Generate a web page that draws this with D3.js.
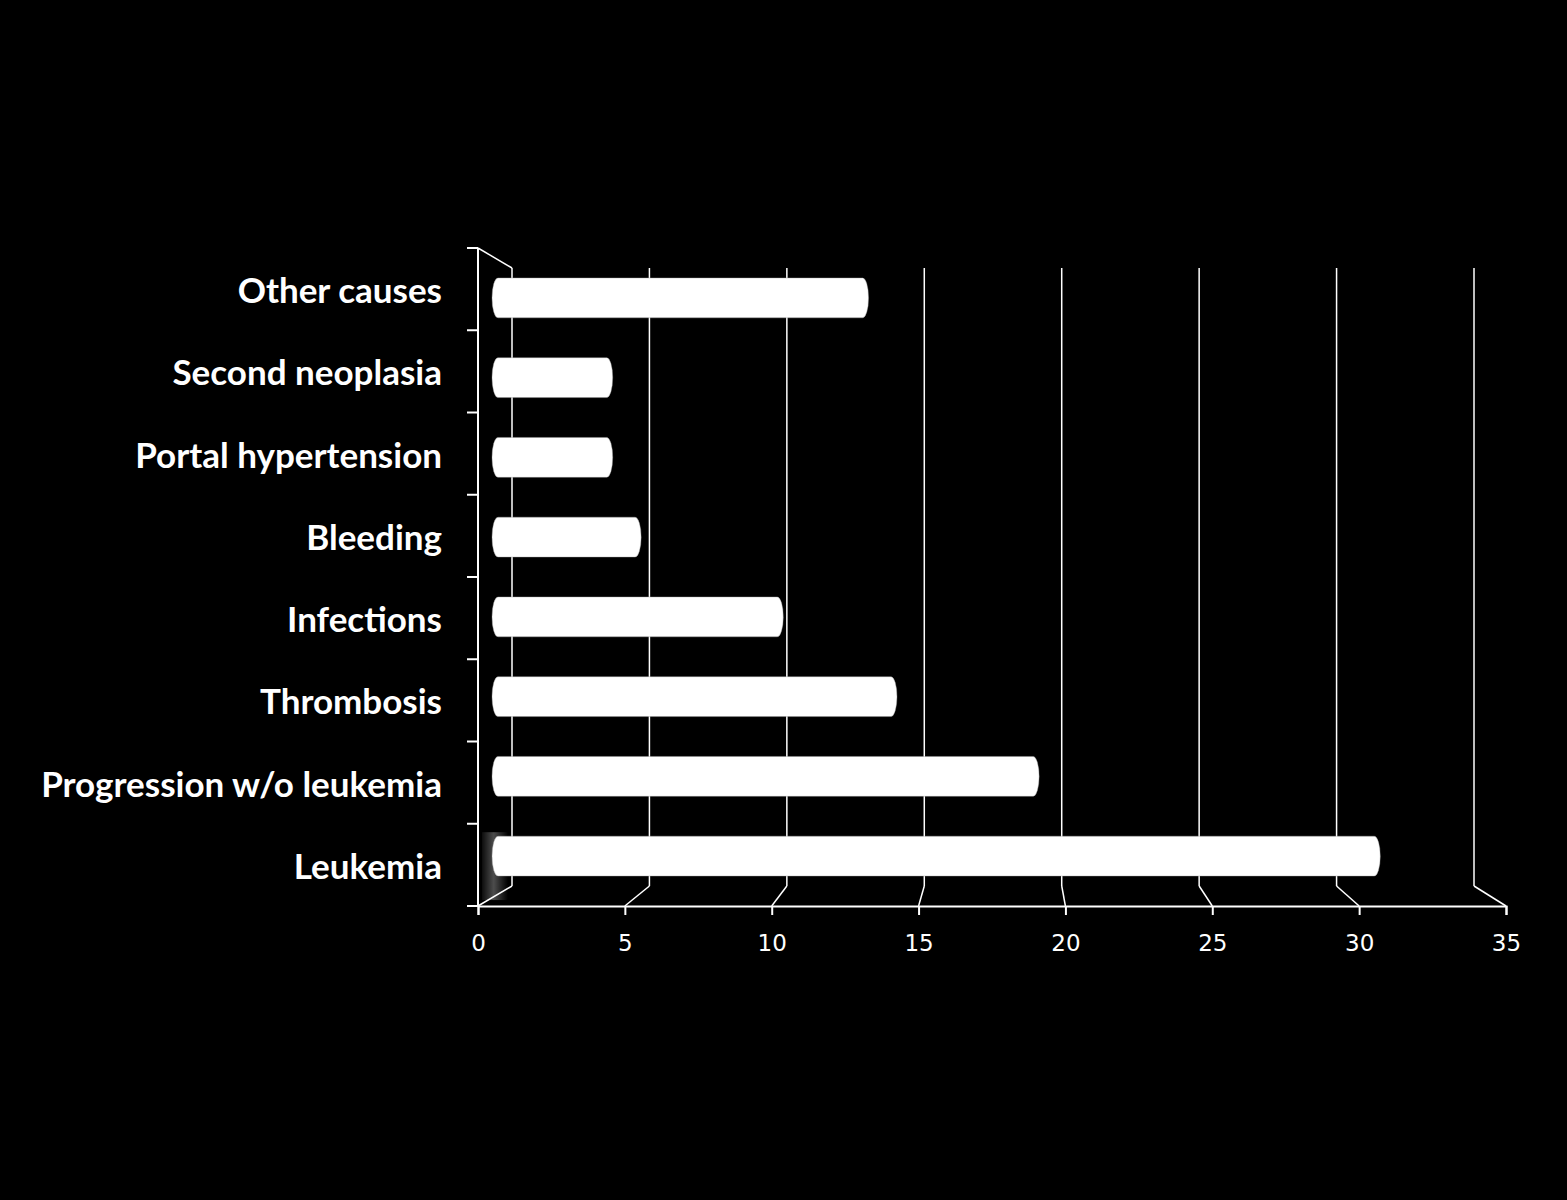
<!DOCTYPE html>
<html lang="en">
<head>
<meta charset="utf-8">
<title>Causes of death</title>
<script src="https://d3js.org/d3.v7.min.js"></script>
<style>
  body { margin: 0; background: #000; }
  svg { display: block; background: #000; }
</style>
</head>
<body>
<script>
// data
var categories = ["Leukemia", "Progression w/o leukemia", "Thrombosis", "Infections",
                  "Bleeding", "Portal hypertension", "Second neoplasia", "Other causes"];
var values = [31, 19, 14, 10, 5, 4, 4, 13];
var tickValues = [0, 5, 10, 15, 20, 25, 30, 35];

var svgWidth = 1567, svgHeight = 1200;

var svg = d3.select("body").append("svg")
    .attr("width", svgWidth)
    .attr("height", svgHeight);

// front plane scales (floor axis)
var xFront = d3.scaleLinear().domain([0, 35]).range([478, 1506]);
var yFront = d3.scaleBand().domain(categories).range([906, 248]);
// back wall scales
var xBack = d3.scaleLinear().domain([0, 35]).range([512, 1474]);
var yBack = d3.scaleBand().domain(categories).range([886, 268]);
// bars sit half way in depth
var xMid = d3.scaleLinear().domain([0, 35]).range([495, 1490]);
var yMid = d3.scaleBand().domain(categories).range([896, 258]).paddingInner(0.5).paddingOuter(0.25);

var line = "#fff";

// back wall gridlines
svg.append("g").selectAll("line")
    .data(tickValues)
    .enter().append("line")
    .attr("x1", function(d) { return xBack(d); })
    .attr("x2", function(d) { return xBack(d); })
    .attr("y1", yBack.range()[1])
    .attr("y2", yBack.range()[0])
    .attr("stroke", line).attr("stroke-width", 1.5);

// floor connectors
svg.append("g").selectAll("line")
    .data(tickValues)
    .enter().append("line")
    .attr("x1", function(d) { return xBack(d); })
    .attr("y1", yBack.range()[0])
    .attr("x2", function(d) { return xFront(d); })
    .attr("y2", yFront.range()[0])
    .attr("stroke", line).attr("stroke-width", 1.5);

// left wall top edge
svg.append("line")
    .attr("x1", xFront(0)).attr("y1", yFront.range()[1])
    .attr("x2", xBack(0)).attr("y2", yBack.range()[1])
    .attr("stroke", line).attr("stroke-width", 1.5);

// subtle shading behind the lowest bar
var grad = svg.append("defs").append("linearGradient")
    .attr("id", "glow").attr("x1", "0").attr("x2", "1");
grad.append("stop").attr("offset", "0").attr("stop-color", "#fff").attr("stop-opacity", 0.05);
grad.append("stop").attr("offset", "0.45").attr("stop-color", "#fff").attr("stop-opacity", 0.3);
grad.append("stop").attr("offset", "1").attr("stop-color", "#fff").attr("stop-opacity", 0.0);
svg.append("rect")
    .attr("x", xFront(0) + 4)
    .attr("y", yMid(categories[0]) - 4)
    .attr("width", 26)
    .attr("height", yMid.bandwidth() + 28)
    .attr("fill", "url(#glow)");

// bars (cylinders seen from the side)
var bh = yMid.bandwidth();
svg.append("g").selectAll("rect")
    .data(categories)
    .enter().append("rect")
    .attr("x", xMid(0) - 3)
    .attr("y", function(d) { return yMid(d); })
    .attr("width", function(d, i) { return xMid(values[i]) - xMid(0) + 7; })
    .attr("height", bh)
    .attr("rx", 6).attr("ry", bh / 2)
    .attr("fill", "#fff")
    .attr("stroke", "#999").attr("stroke-width", 0.4);

// front floor axis
var xAxis = svg.append("g")
    .attr("transform", "translate(0," + yFront.range()[0] + ")")
    .call(d3.axisBottom(xFront).tickValues(tickValues).tickSize(9).tickPadding(20).tickFormat(d3.format("d")));
xAxis.select(".domain").attr("stroke", line).attr("stroke-width", 2);
xAxis.selectAll(".tick line").attr("stroke", line).attr("stroke-width", 2);
xAxis.selectAll(".tick text")
    .attr("fill", "#fff")
    .attr("font-family", "'DejaVu Sans', sans-serif")
    .attr("font-size", 23);

// left axis with ticks between categories
var yEdges = categories.map(function(d) { return yFront(d); }).concat([yFront.range()[0]]);
svg.append("line")
    .attr("x1", xFront(0)).attr("x2", xFront(0))
    .attr("y1", yFront.range()[1]).attr("y2", yFront.range()[0])
    .attr("stroke", line).attr("stroke-width", 2);
svg.append("g").selectAll("line")
    .data(yEdges)
    .enter().append("line")
    .attr("x1", xFront(0) - 11).attr("x2", xFront(0))
    .attr("y1", function(d) { return d; }).attr("y2", function(d) { return d; })
    .attr("stroke", line).attr("stroke-width", 2);

// category labels
svg.append("g").selectAll("text")
    .data(categories)
    .enter().append("text")
    .attr("x", 442)
    .attr("y", function(d) { return yFront(d) + yFront.bandwidth() / 2; })
    .attr("dy", "0.4em")
    .attr("text-anchor", "end")
    .attr("fill", "#fff")
    .attr("font-family", "Lato, 'Open Sans', sans-serif")
    .attr("font-weight", "bold")
    .attr("font-size", 35)
    .text(function(d) { return d; });
</script>
</body>
</html>
